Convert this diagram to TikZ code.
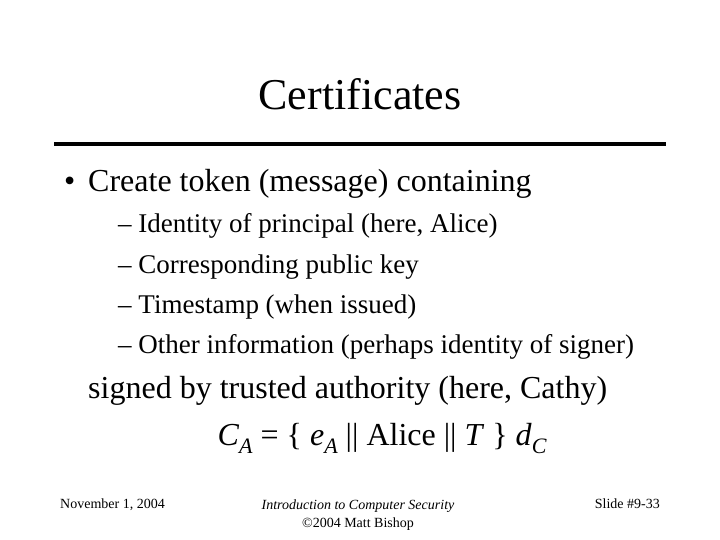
\documentclass[tikz,border=0pt]{standalone}
\usepackage{fontspec}
\setmainfont{Liberation Serif}
\newcommand{\sbs}[1]{\raisebox{-0.25em}{\fontsize{22}{24}\selectfont\itshape #1}}
\begin{document}
\begin{tikzpicture}[x=1pt,y=1pt,
  big/.style={font=\fontsize{32}{36}\selectfont,inner sep=0pt},
  sub/.style={font=\fontsize{27}{30}\selectfont,inner sep=0pt},
  foot/.style={font=\fontsize{14}{18}\selectfont,inner sep=0pt}]
\useasboundingbox[fill=white] (0,0) rectangle (720,-540);
\node[font=\fontsize{44}{50}\selectfont,inner sep=0pt,anchor=base] (title) at (360,-110) {Certificates};
\draw[line width=4pt] (54,-144) -- (666,-144);
\node[big,anchor=base west] (bul) at (64,-192) {\textbullet};
\node[big,anchor=base west] (b1) at (88,-192) {Create token (message) containing};
\node[sub,anchor=base west] (s1) at (118,-233) {– Identity of principal (here, Alice)};
\node[sub,anchor=base west] (s2) at (118,-273) {– Corresponding public key};
\node[sub,anchor=base west] (s3) at (118,-313) {– Timestamp (when issued)};
\node[sub,anchor=base west] (s4) at (118,-353) {– Other information (perhaps identity of signer)};
\node[big,anchor=base west] (sg) at (88,-398) {signed by trusted authority (here, Cathy)};
\node[big,anchor=base] (f) at (382,-445) {\textit{C}\sbs{A} = \{ \textit{e}\sbs{A} || Alice || \textit{T} \} \textit{d}\sbs{C}};
\node[foot,anchor=base west] (fl) at (60,-508) {November 1, 2004};
\node[foot,anchor=base,align=center] (fc) at (358,-527) {\textit{Introduction to Computer Security}\\©2004 Matt Bishop};
\node[foot,anchor=base east] (fr) at (660,-508) {Slide \#9-33};
\end{tikzpicture}
\end{document}
